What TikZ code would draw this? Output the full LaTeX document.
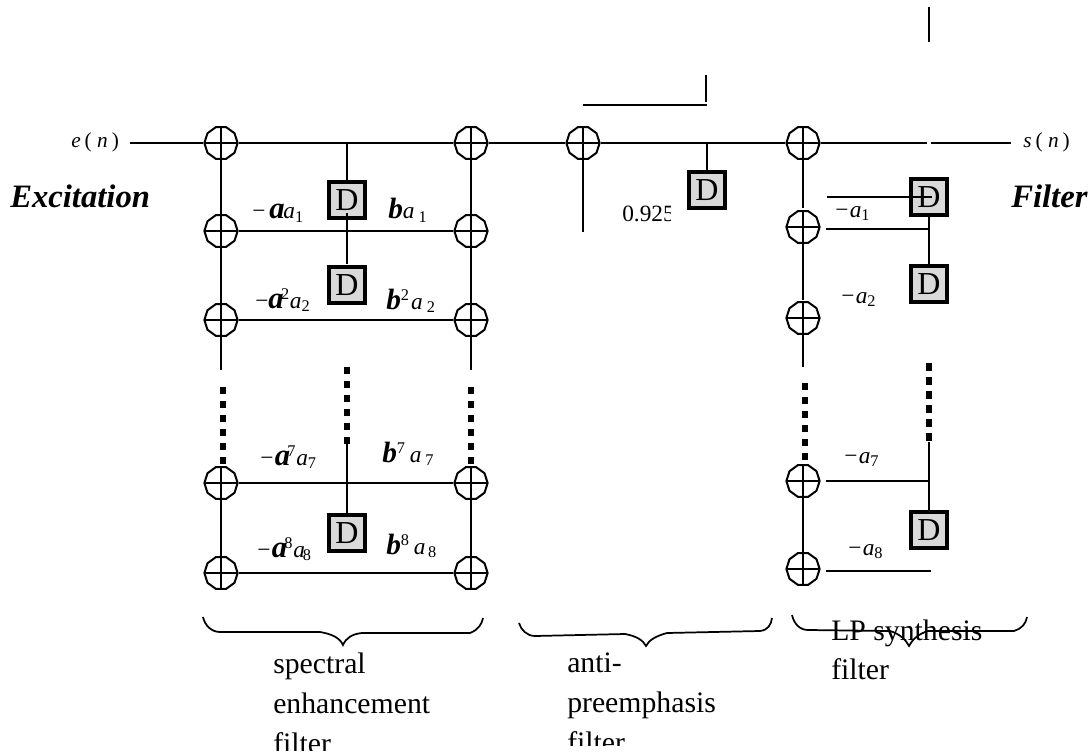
\documentclass[tikz,border=0pt]{standalone}
\usepackage{fontspec}
\setmainfont{Liberation Serif}
\usetikzlibrary{shapes.geometric}

\newcommand{\lpcoef}[1]{−\kern1pt\textit{a}\textsubscript{#1}}
\newcommand{\boldb}{\textbf{\textit{\fontsize{22}{22}\selectfont b}}}
\newcommand{\bolda}{\textbf{\textit{\fontsize{23}{23}\selectfont a}}}
\newcommand{\sigtext}[1]{\textit{#1}\kern3pt(\kern4pt\textit{n}\kern3pt)}

\tikzset{
  sumnode/.style={regular polygon,regular polygon sides=10,draw,line width=1.5pt,minimum size=25pt,inner sep=0pt,
    path picture={
      \draw[line width=1.2pt] (path picture bounding box.north) -- (path picture bounding box.south);
      \draw[line width=1.2pt] (path picture bounding box.west) -- (path picture bounding box.east);
    }},
  delaybox/.style={draw,line width=2.4pt,fill=black!15,minimum size=27pt,inner sep=0pt,font=\fontsize{24}{24}\selectfont},
  wire/.style={line width=1.5pt},
  dotwire/.style={line width=4pt,dash pattern=on 5pt off 5.5pt},
  longdotwire/.style={line width=4pt,dash pattern=on 6pt off 4.5pt},
  brace/.style={line width=1.3pt},
  coef/.style={anchor=base west,inner sep=0pt,font=\fontsize{17.5}{17.5}\selectfont},
  sig/.style={anchor=base west,inner sep=0pt,font=\fontsize{16}{16}\selectfont},
  side/.style={anchor=base west,inner sep=0pt,font=\fontsize{24.5}{24.5}\selectfont\bfseries\itshape},
  stage/.style={anchor=base west,inner sep=0pt,font=\fontsize{22.3}{22.3}\selectfont},
}

\begin{document}
\begin{tikzpicture}[x=0.75pt,y=-0.75pt]
\useasboundingbox (0,0) rectangle (1092,756);

% adders
\foreach \name/\y in {1/143,2/231,3/320,7/483,8/573} {
  \node[sumnode] (enL\name) at (221,\y) {};
  \node[sumnode] (enR\name) at (471,\y) {};
}
\node[sumnode] (pre) at (583,143) {};
\foreach \name/\y in {0/143,1/227,2/318,7/481,8/569} {
  \node[sumnode] (syn\name) at (803,\y) {};
}

% delays
\node[delaybox] (dEn1) at (347,200) {D};
\node[delaybox] (dEn2) at (347,285) {D};
\node[delaybox] (dEn8) at (347,533) {D};
\node[delaybox] (dPre) at (707,190) {D};
\node[delaybox] (dSyn1) at (929,197) {D};
\node[delaybox] (dSyn2) at (929,284) {D};
\node[delaybox] (dSyn8) at (929,530) {D};

% free ends
\coordinate (inStart) at (130,143);
\coordinate (outEnd) at (1011,143);
\coordinate (outJoin) at (929,143);
\coordinate (enTap) at (347,143);
\coordinate (preTap) at (707,143);
\coordinate (enMid) at (347,264);
\coordinate (preEnd) at (583,232);

% spectral enhancement part
\draw[wire] (inStart) -- (enL1);
\draw[wire] (enL1) -- (enR1);
\draw[wire] (enTap) -- (dEn1);
\draw[wire] (dEn1.center |- 0,213) -- (enMid);
\draw[wire] (enL2) -- (enR2);
\draw[wire] (enL3) -- (enR3);
\draw[wire] (enL7) -- (enR7);
\draw[wire] (enL8) -- (enR8);
\draw[wire] (enL1) -- (enL2);
\draw[wire] (enL2) -- (enL3);
\draw[wire] (enL3) -- (221,370);
\draw[wire] (enL7) -- (enL8);
\draw[wire] (enR1) -- (enR2);
\draw[wire] (enR2) -- (enR3);
\draw[wire] (enR3) -- (471,370);
\draw[wire] (enR7) -- (enR8);
\draw[dotwire] (223,387) -- (223,464);
\draw[dotwire] (471,387) -- (471,464);
\draw[dotwire] (347,367) -- (347,444);
\draw[wire] (347,443) -- (dEn8);

% anti-preemphasis part
\draw[wire] (enR1) -- (pre);
\draw[wire] (pre) -- (syn0);
\draw[wire] (pre) -- (preEnd);
\draw[wire] (preTap) -- (dPre);
\draw[wire] (583,105) -- (707,105);
\draw[wire] (706,75) -- (706,102);

% LP synthesis part
\draw[wire] (syn0) -- (927,143);
\draw[wire] (outJoin) ++(2,0) -- (outEnd);
\draw[wire] (929,7) -- (929,42);
\draw[wire] (syn0) -- (803,208);
\draw[wire] (syn1) -- (803,300);
\draw[wire] (syn2) -- (803,367);
\draw[wire] (syn7) -- (803,552);
\draw[wire] (827,197) -- (932,197);
\draw[wire] (826,229) -- (930,229);
\draw[wire] (929,214) -- (dSyn2);
\draw[wire] (826,481) -- (930,481);
\draw[wire] (826,571) -- (931,571);
\draw[dotwire] (805,383) -- (805,460);
\draw[longdotwire] (929,363) -- (929,442);
\draw[wire] (929,442) -- (dSyn8);

% braces
\draw[brace] (203,617) .. controls (205,626) and (212,632) .. (220,632) -- (320,632)
  .. controls (332,634) and (340,638) .. (343,645) .. controls (346,638) and (352,634) .. (362,633)
  -- (470,633) .. controls (478,630) and (482,624) .. (483,618);
\draw[brace] (519,623) .. controls (521,630) and (527,636) .. (535,636) -- (625,634)
  .. controls (636,636) and (643,640) .. (646,646) .. controls (649,640) and (656,636) .. (667,633)
  -- (760,631) .. controls (768,630) and (771,625) .. (772,618);
\draw[brace] (792,615) .. controls (794,624) and (800,630) .. (808,630) -- (890,631)
  .. controls (900,634) and (906,640) .. (909,646) .. controls (912,640) and (918,634) .. (928,631)
  -- (1014,631) .. controls (1021,629) and (1026,624) .. (1027,617);

% labels
\node[sig] (lblIn) at (71,148) {\sigtext{e}};
\node[sig] (lblOut) at (1023,148) {\sigtext{s}};
\node[side] (lblExc) at (10,207) {Excitation};
\node[side] (lblFil) at (1011,208) {Filter};

\node[coef] (lblA1) at (252,219) {−\kern3pt\bolda\kern-1pt\textit{a}\textsubscript{1}};
\node[coef] (lblB1) at (388,219) {\boldb\textit{a}\kern3pt\textsubscript{1}};
\node[coef] (lblA2) at (255,308) {−\bolda\kern-2pt\textsuperscript{2}\textit{a}\textsubscript{2}};
\node[coef] (lblB2) at (386,309) {\boldb\textsuperscript{2}\kern1pt\textit{a}\kern3pt\textsubscript{2}};
\node[coef] (lblA7) at (260,465) {−\kern1pt\bolda\kern-2pt\textsuperscript{7}\textit{a}\textsubscript{7}};
\node[coef] (lblB7) at (382,462) {\boldb\textsuperscript{7}\kern3pt\textit{a}\kern3pt\textsubscript{7}};
\node[coef] (lblA8) at (257,557) {−\kern1pt\bolda\kern-2pt\textsuperscript{8}\textit{a}\kern-1.5pt\textsubscript{8}};
\node[coef] (lblB8) at (386,554) {\boldb\textsuperscript{8}\kern3pt\textit{a}\kern2pt\textsubscript{8}};

\node[coef] (lblS1) at (835,217) {\lpcoef{1}};
\node[coef] (lblS2) at (841,303) {\lpcoef{2}};
\node[coef] (lblS7) at (844,463) {\lpcoef{7}};
\node[coef] (lblS8) at (848,555) {\lpcoef{8}};

\begin{scope}
\clip (600,190) rectangle (670,240);
\node[coef] (lblGain) at (622,221) {0.925};
\end{scope}

\node[stage] (enLine1) at (273,673) {spectral};
\node[stage] (enLine2) at (273,713) {enhancement};
\node[stage] (preLine1) at (567,672) {anti-};
\node[stage] (preLine2) at (567,712) {preemphasis};
\node[stage] (synLine1) at (831,640) {LP synthesis};
\node[stage] (synLine2) at (831,679) {filter};
\begin{scope}
\clip (250,720) rectangle (400,750);
\node[stage] (enLine3) at (273,753) {filter};
\end{scope}
\begin{scope}
\clip (550,720) rectangle (700,745);
\node[stage] (preLine3) at (567,752) {filter};
\end{scope}
\end{tikzpicture}
\end{document}
